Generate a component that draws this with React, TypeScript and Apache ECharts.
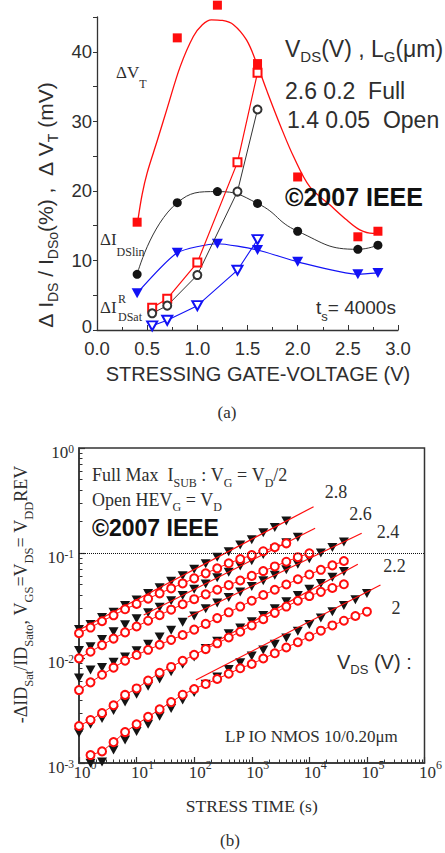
import React, { useEffect, useRef } from "react";
import * as echarts from "echarts";

// ---------------- Chart (a): degradation vs stressing gate voltage ----------------
const GATE_V_FULL = [0.4, 0.8, 1.2, 1.6, 2.0, 2.6, 2.8];
const DVT_FULL = [15.5, 42.0, 46.7, 38.3, 22.0, 13.4, 14.2];
const DIDLIN_FULL = [8.0, 18.3, 19.9, 18.2, 14.2, 11.6, 12.2];
const DIDSAT_FULL = [5.3, 11.1, 12.4, 11.5, 9.8, 8.0, 8.2];
const GATE_V_OPEN = [0.55, 0.7, 1.0, 1.4, 1.6];
const DVT_OPEN = [3.2, 4.5, 9.7, 24.1, 37.0];
const DIDLIN_OPEN = [2.4, 3.5, 7.9, 19.9, 31.7];
const DIDSAT_OPEN = [0.6, 1.4, 3.5, 8.6, 13.0];
// fitted ΔVT curve (Full)
const DVT_FIT_X = [0.41, 0.45, 0.5, 0.6, 0.7, 0.83, 0.96, 1.05, 1.14, 1.25, 1.36, 1.49, 1.59, 1.69, 1.83, 1.96, 2.12, 2.32, 2.49, 2.62, 2.75, 2.84];
const DVT_FIT_Y = [16.0, 19.5, 22.6, 27.2, 31.9, 37.9, 42.2, 43.9, 44.6, 44.5, 43.9, 41.7, 38.4, 34.5, 29.3, 24.9, 20.6, 18.0, 15.8, 14.4, 13.9, 14.0];

// ---------------- Chart (b): -ΔIDsat/IDsat0 vs stress time ----------------
const STRESS_TIME = [1, 1.585, 2.512, 3.981, 6.31, 10, 15.85, 25.12, 39.81, 63.1, 100, 158.5, 251.2, 398.1, 631, 1000, 1585, 2512, 3981, 6310, 10000, 15850, 25120, 39810, 63100, 100000];
// Full (filled triangles) and Open (open circles) per VDS
const FULL_28 = [0.0187, 0.0209, 0.0243, 0.0273, 0.0317, 0.0356, 0.0412, 0.0466, 0.0538, 0.0606, 0.0701, 0.0792, 0.0912, 0.103, 0.119, 0.134, 0.156, 0.175, 0.202];
const OPEN_28 = [0.0172, 0.0195, 0.0224, 0.0255, 0.0291, 0.0327, 0.0367, 0.0413, 0.046, 0.0513, 0.0573, 0.064, 0.0715, 0.0798, 0.0875, 0.0955, 0.104, 0.1135, 0.1236];
const FULL_26 = [0.0118, 0.0128, 0.015, 0.0178, 0.0207, 0.0236, 0.027, 0.0305, 0.035, 0.0393, 0.0452, 0.0506, 0.0582, 0.0655, 0.0752, 0.0845, 0.0968, 0.109, 0.125, 0.141];
const OPEN_26 = [0.00993, 0.01148, 0.01327, 0.01531, 0.01754, 0.01995, 0.02265, 0.02559, 0.02884, 0.03251, 0.03631, 0.04036, 0.04467, 0.04943, 0.0547, 0.06053, 0.0673, 0.07447, 0.0826, 0.0912, 0.0993];
const FULL_24 = [0.00646, 0.00769, 0.00813, 0.00912, 0.01023, 0.01175, 0.01349, 0.01585, 0.01841, 0.02188, 0.02512, 0.02951, 0.03342, 0.03767, 0.04256, 0.04808, 0.05433, 0.06138, 0.06918, 0.07816, 0.08831, 0.09977, 0.1127, 0.1274];
const OPEN_24 = [0.00495, 0.00586, 0.00692, 0.00809, 0.00942, 0.01067, 0.01197, 0.01337, 0.01489, 0.01656, 0.01862, 0.02113, 0.02399, 0.02723, 0.0309, 0.03508, 0.03981, 0.04467, 0.05012, 0.05623, 0.06237, 0.06918, 0.07621, 0.08395];
const FULL_22 = [0.00193, 0.00234, 0.00266, 0.00316, 0.0038, 0.00452, 0.00537, 0.00631, 0.00741, 0.00871, 0.01023, 0.0123, 0.01445, 0.01698, 0.01928, 0.02213, 0.02541, 0.02951, 0.03428, 0.03936, 0.04519, 0.05129, 0.05888, 0.06683];
const OPEN_22 = [0.00225, 0.00257, 0.00299, 0.00355, 0.00445, 0.00513, 0.0061, 0.00724, 0.00822, 0.00942, 0.01072, 0.01216, 0.0138, 0.01567, 0.01778, 0.02042, 0.02344, 0.02692, 0.0309, 0.03508, 0.0389, 0.04266, 0.04645, 0.05035];
const FULL_20 = [0.000993, 0.00102, 0.00133, 0.00166, 0.002, 0.00234, 0.00279, 0.00331, 0.00398, 0.00468, 0.00562, 0.00661, 0.00776, 0.00902, 0.01047, 0.01189, 0.01349, 0.01549, 0.01799, 0.02089, 0.02399, 0.02754, 0.03162, 0.03589, 0.04121];
const OPEN_20 = [0.00119, 0.00129, 0.00158, 0.00197, 0.00234, 0.00275, 0.00324, 0.0038, 0.00447, 0.00507, 0.00565, 0.00631, 0.00708, 0.00798, 0.00877, 0.00989, 0.01109, 0.01259, 0.01413, 0.01603, 0.0182, 0.02042, 0.02265, 0.02512, 0.02761];
// power-law fit lines (start, end)
const FIT_28 = [[1, 0.0185], [11850, 0.276]];
const FIT_26 = [[13.3, 0.0257], [12600, 0.172]];
const FIT_24 = [[78, 0.0246], [81100, 0.154]];
const FIT_22 = [[151, 0.01245], [69500, 0.078]];
const FIT_20 = [[107, 0.00617], [172000, 0.0496]];
const VDS_LABELS = ["2.8", "2.6", "2.4", "2.2", "2"];
const B_DECADES_X = [1, 10, 100, 1000, 10000, 100000, 1000000];
const B_DECADES_Y = [0.001, 0.01, 0.1, 1];
const MINOR_MULT = [2, 3, 4, 5, 6, 7, 8, 9];

const SANS = "'Liberation Sans', Arial, Helvetica, sans-serif";
const SERIF = "'Liberation Serif', 'Times New Roman', Times, serif";
const TXT = "#2e2e2e";
const AX = "#333333";
const RED = "#ff0d0d";
const BLUE = "#1212f5";
const BLK = "#141414";

const zip = (xs: number[], ys: number[], start = 0) => ys.map((v, i) => [xs[i + start], v]);
const minorTicks = (dec: number[]) => dec.slice(0, -1).flatMap((d) => MINOR_MULT.map((m) => m * d));
const NB = "\u00a0";

function subText(o: any) {
  const P = Math.max(0, o.d - o.fm / 2 + o.fs / 2);
  const fill = o.fill || TXT;
  const weight = o.weight || "normal";
  const rot = o.rotation || 0;
  return {
    type: "text",
    x: rot ? o.x - o.fm / 2 : o.x,
    y: rot ? o.y : o.y - o.fm / 2,
    rotation: rot,
    z: 50,
    silent: true,
    style: {
      text: o.text,
      align: rot ? "center" : o.align || "left",
      verticalAlign: "top",
      fill,
      fontFamily: o.fam,
      fontSize: o.fm,
      rich: {
        m: { fontFamily: o.fam, fontSize: o.fm, fontWeight: weight, height: o.fm, fill, padding: [0, 0, P, 0], verticalAlign: "top" },
        s: { fontFamily: o.fam, fontSize: o.fs, fontWeight: weight, height: o.fs, fill, verticalAlign: "bottom" },
      },
    },
  };
}

function plainText(x: number, y: number, text: string, fam: string, size: number, extra: any = {}) {
  return {
    type: "text",
    x,
    y,
    z: 50,
    silent: true,
    style: { text, fontFamily: fam, fontSize: size, fill: TXT, align: "left", verticalAlign: "middle", ...extra },
  };
}

const decadeLabel = (v: number) => `{b|10}{s|${Math.round(Math.log10(v))}}`;
// the "0" label of chart (a) sits a little above its tick, as in the original
const aYLabel = (v: number) => (v === 0 ? "{z|0}" : v % 10 === 0 ? `{n|${v}}` : "");

function buildOption() {
  const rows = [
    { full: FULL_28, open: OPEN_28, fit: FIT_28, fs: 0, os: 0 },
    { full: FULL_26, open: OPEN_26, fit: FIT_26, fs: 0, os: 0 },
    { full: FULL_24, open: OPEN_24, fit: FIT_24, fs: 0, os: 0 },
    { full: FULL_22, open: OPEN_22, fit: FIT_22, fs: 0, os: 0 },
    { full: FULL_20, open: OPEN_20, fit: FIT_20, fs: 1, os: 1 },
  ];
  const bSeries: any[] = [];
  rows.forEach((r, i) => {
    bSeries.push({
      type: "scatter",
      name: `Full ${VDS_LABELS[i]}`,
      xAxisIndex: 1,
      yAxisIndex: 1,
      data: zip(STRESS_TIME, r.full, r.fs),
      symbol: "triangle",
      symbolRotate: 180,
      symbolSize: [10, 9],
      itemStyle: { color: BLK, opacity: 1 },
      clip: false,
      z: 2,
    });
  });
  rows.forEach((r, i) => {
    bSeries.push({
      type: "line",
      name: `Fit ${VDS_LABELS[i]}`,
      xAxisIndex: 1,
      yAxisIndex: 1,
      data: r.fit,
      showSymbol: false,
      symbol: "none",
      lineStyle: { color: RED, width: 1.2 },
      z: 3,
    });
  });
  rows.forEach((r, i) => {
    const s: any = {
      type: "line",
      name: `Open ${VDS_LABELS[i]}`,
      xAxisIndex: 1,
      yAxisIndex: 1,
      data: zip(STRESS_TIME, r.open, r.os),
      symbol: "emptyCircle",
      symbolSize: 8,
      itemStyle: { color: RED, borderWidth: 1.1 },
      lineStyle: { color: RED, width: 1 },
      clip: false,
      z: 4,
    };
    if (i === 0) {
      s.markLine = {
        silent: true,
        symbol: ["none", "none"],
        label: { show: false },
        lineStyle: { type: "dotted", color: "#111", width: 1 },
        data: [{ yAxis: 0.1 }],
      };
    }
    bSeries.push(s);
  });

  const aSeries: any[] = [
    {
      type: "line", name: "ΔVT fit", xAxisIndex: 0, yAxisIndex: 0,
      data: zip(DVT_FIT_X, DVT_FIT_Y), smooth: 0.35, showSymbol: false, symbol: "none",
      lineStyle: { color: RED, width: 1.3 }, clip: false, z: 2,
    },
    {
      type: "line", name: "ΔIDSlin Full", xAxisIndex: 0, yAxisIndex: 0,
      data: zip(GATE_V_FULL, DIDLIN_FULL), smooth: 0.5, symbol: "circle", symbolSize: 9,
      itemStyle: { color: BLK }, lineStyle: { color: "#333", width: 1 }, z: 3,
    },
    {
      type: "line", name: "ΔIDSat Full", xAxisIndex: 0, yAxisIndex: 0,
      data: zip(GATE_V_FULL, DIDSAT_FULL), smooth: 0.2, symbol: "triangle", symbolRotate: 180, symbolSize: [11, 10],
      itemStyle: { color: BLUE }, lineStyle: { color: BLUE, width: 1.2 }, z: 3,
    },
    {
      type: "line", name: "ΔVT Open", xAxisIndex: 0, yAxisIndex: 0,
      data: zip(GATE_V_OPEN, DVT_OPEN), symbol: "emptyRect", symbolSize: 8,
      itemStyle: { color: RED, borderWidth: 1.2 }, lineStyle: { color: RED, width: 1.2 }, z: 4,
    },
    {
      type: "line", name: "ΔIDSlin Open", xAxisIndex: 0, yAxisIndex: 0,
      data: zip(GATE_V_OPEN, DIDLIN_OPEN), symbol: "emptyCircle", symbolSize: 8,
      itemStyle: { color: "#333", borderWidth: 1.1 }, lineStyle: { color: "#333", width: 1 }, z: 4,
    },
    {
      type: "line", name: "ΔIDSat Open", xAxisIndex: 0, yAxisIndex: 0,
      data: zip(GATE_V_OPEN, DIDSAT_OPEN), symbol: "emptyTriangle", symbolRotate: 180, symbolSize: [10, 9],
      itemStyle: { color: BLUE, borderWidth: 1.1 }, lineStyle: { color: BLUE, width: 1.1 }, z: 4,
    },
    {
      type: "scatter", name: "ΔVT Full", xAxisIndex: 0, yAxisIndex: 0,
      data: zip(GATE_V_FULL, DVT_FULL), symbol: "rect", symbolSize: 9,
      itemStyle: { color: RED, opacity: 1 }, clip: false, z: 5,
    },
  ];

  const graphics: any[] = [
    // chart (a) annotations
    subText({ x: 45.5, y: 205, text: `{m|Δ${NB}I}{s|DS}{m|${NB}/${NB}I}{s|DSo}{m|(%)${NB},${NB}${NB}Δ${NB}V}{s|T}{m|${NB}(mV)}`, fam: SANS, fm: 21, fs: 14, d: 7.5, rotation: Math.PI / 2 }),
    subText({ x: 116, y: 72.5, text: "{m|ΔV}{s|T}", fam: SERIF, fm: 17, fs: 12, d: 11 }),
    subText({ x: 285, y: 49, text: `{m|V}{s|DS}{m|(V)${NB},${NB}L}{s|G}{m|(μm)}`, fam: SANS, fm: 23, fs: 15, d: 7.5 }),
    plainText(285, 90.5, `2.6 0.2${NB}${NB}Full`, SANS, 23),
    plainText(287, 119.5, `1.4 0.05${NB}${NB}Open`, SANS, 23),
    plainText(285, 197, "©2007 IEEE", SANS, 25, { fontWeight: "bold", fill: "#111" }),
    subText({ x: 100, y: 239, text: "{m|ΔI}{s|DSlin}", fam: SERIF, fm: 17, fs: 12, d: 13 }),
    plainText(100, 307.5, "ΔI", SERIF, 17),
    plainText(118, 298.5, "R", SERIF, 12),
    plainText(118, 317, "DSat", SERIF, 12),
    subText({ x: 316, y: 307.5, text: `{m|t}{s|s}{m|=${NB}4000s}`, fam: SANS, fm: 19, fs: 13, d: 8.5 }),
    plainText(227, 412, "(a)", SERIF, 17, { align: "center" }),
    // chart (b) annotations
    subText({ x: 21, y: 594.5, text: `{m|-ΔID}{s|Sat}{m|/ID}{s|Sato}{m|,${NB}V}{s|GS}{m|=V}{s|DS}{m|=${NB}V}{s|DD}{m|REV}`, fam: SERIF, fm: 18, fs: 12.5, d: 8, rotation: Math.PI / 2 }),
    subText({ x: 92, y: 475, text: `{m|Full Max${NB}${NB}I}{s|SUB}{m|${NB}:${NB}V}{s|G}{m|${NB}=${NB}V}{s|D}{m|/2}`, fam: SERIF, fm: 18, fs: 12, d: 7.5 }),
    subText({ x: 92, y: 500, text: `{m|Open HEV}{s|G}{m|${NB}=${NB}V}{s|D}`, fam: SERIF, fm: 18, fs: 12, d: 7 }),
    plainText(92, 527.5, "©2007 IEEE", SANS, 23, { fontWeight: "bold", fill: "#111" }),
    plainText(336, 492, VDS_LABELS[0], SERIF, 18, { align: "center" }),
    plainText(360.5, 514, VDS_LABELS[1], SERIF, 18, { align: "center" }),
    plainText(388, 532, VDS_LABELS[2], SERIF, 18, { align: "center" }),
    plainText(394.5, 566, VDS_LABELS[3], SERIF, 18, { align: "center" }),
    plainText(396, 607.5, VDS_LABELS[4], SERIF, 18, { align: "center" }),
    subText({ x: 337, y: 661.5, text: `{m|V}{s|DS}{m|${NB}(V)${NB}:}`, fam: SANS, fm: 20, fs: 13, d: 7.5 }),
    plainText(225, 736, "LP IO NMOS 10/0.20μm", SERIF, 17),
    plainText(230, 840, "(b)", SERIF, 17, { align: "center" }),
  ];

  return {
    animation: false,
    backgroundColor: "#ffffff",
    textStyle: { fontFamily: SANS },
    grid: [
      { left: 97, top: 17, width: 301, height: 313 },
      { left: 79, top: 448, width: 352, height: 315, show: true, borderColor: AX, borderWidth: 1.5, backgroundColor: "transparent" },
    ],
    xAxis: [
      {
        gridIndex: 0, type: "value", min: 0, max: 3, interval: 0.5,
        axisLine: { show: true, lineStyle: { color: AX, width: 1.3 } },
        axisTick: { show: true, inside: true, length: 5, lineStyle: { color: AX, width: 1 } },
        minorTick: { show: true, splitNumber: 2, length: 3, lineStyle: { color: AX, width: 1 } },
        splitLine: { show: false },
        axisLabel: { formatter: (v: number) => v.toFixed(1), fontFamily: SANS, fontSize: 18.5, lineHeight: 18, color: TXT, margin: 9 },
        name: "STRESSING GATE-VOLTAGE (V)", nameLocation: "middle", nameGap: 33.5,
        nameTextStyle: { fontFamily: SANS, fontSize: 20, color: TXT, padding: [0, 0, 0, 21] },
      },
      {
        gridIndex: 1, type: "log", logBase: 10, min: 1, max: 1000000, position: "bottom",
        axisLine: { show: true, lineStyle: { color: AX, width: 1.5 } },
        axisTick: { show: true, inside: true, length: 6, lineStyle: { color: AX, width: 1.2 }, customValues: B_DECADES_X },
        splitLine: { show: false },
        axisLabel: {
          customValues: B_DECADES_X, formatter: decadeLabel, margin: -2,
          rich: {
            b: { fontFamily: SERIF, fontSize: 17, height: 12, color: TXT, padding: [5, 0, 0, 12], verticalAlign: "bottom" },
            s: { fontFamily: SERIF, fontSize: 12, height: 8, color: TXT, verticalAlign: "top" },
          },
        },
        name: "STRESS TIME (s)", nameLocation: "middle", nameGap: 33.5,
        nameTextStyle: { fontFamily: SERIF, fontSize: 17.5, color: TXT },
      },
      {
        gridIndex: 1, type: "log", logBase: 10, min: 1, max: 1000000, position: "bottom",
        axisLine: { show: false }, axisLabel: { show: false }, splitLine: { show: false },
        axisTick: { show: true, inside: true, length: 3.5, lineStyle: { color: AX, width: 1 }, customValues: minorTicks(B_DECADES_X) },
      },
    ],
    yAxis: [
      {
        gridIndex: 0, type: "value", min: 0, max: 45, interval: 5,
        axisLine: { show: true, lineStyle: { color: AX, width: 1.3 } },
        axisTick: { show: true, inside: false, length: 4, lineStyle: { color: AX, width: 1 } },
        splitLine: { show: false },
        axisLabel: {
          formatter: aYLabel, margin: 5,
          rich: {
            n: { fontFamily: SANS, fontSize: 18.5, color: TXT },
            z: { fontFamily: SANS, fontSize: 18.5, color: TXT, height: 12, padding: [0, 0, 8, 0] },
          },
        },
      },
      {
        gridIndex: 1, type: "log", logBase: 10, min: 0.001, max: 1, position: "left",
        axisLine: { show: true, lineStyle: { color: AX, width: 1.5 } },
        axisTick: { show: true, inside: true, length: 6, lineStyle: { color: AX, width: 1.2 }, customValues: B_DECADES_Y },
        splitLine: { show: false },
        axisLabel: {
          customValues: B_DECADES_Y, formatter: decadeLabel, margin: 5,
          rich: {
            b: { fontFamily: SERIF, fontSize: 17, height: 12, color: TXT, padding: [8, 0, 0, 0], verticalAlign: "bottom" },
            s: { fontFamily: SERIF, fontSize: 11.5, height: 8, color: TXT, padding: [6.5, 0, 0, 0], verticalAlign: "top" },
          },
        },
      },
      {
        gridIndex: 1, type: "log", logBase: 10, min: 0.001, max: 1, position: "left",
        axisLine: { show: false }, axisLabel: { show: false }, splitLine: { show: false },
        axisTick: { show: true, inside: true, length: 3.5, lineStyle: { color: AX, width: 1 }, customValues: minorTicks(B_DECADES_Y) },
      },
    ],
    series: [...aSeries, ...bSeries],
    graphic: graphics,
  };
}

export default function App() {
  const ref = useRef<HTMLDivElement>(null);
  useEffect(() => {
    document.body.style.margin = "0";
    if (!ref.current) return;
    const chart = echarts.init(ref.current, null, { renderer: "svg" });
    chart.setOption(buildOption() as any);
    return () => chart.dispose();
  }, []);
  return <div ref={ref} style={{ width: 445, height: 853, background: "#fff" }} />;
}
